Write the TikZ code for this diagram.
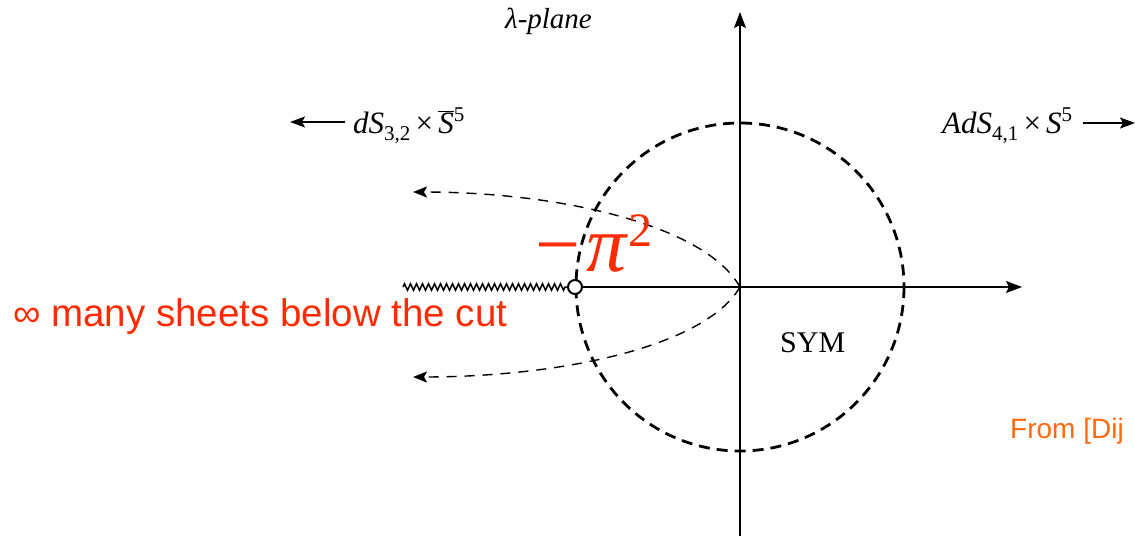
\documentclass[tikz,border=0pt]{standalone}
\usepackage{fontspec}
\setmainfont{Liberation Serif}
\newfontfamily\arialfont{Liberation Sans}
\usetikzlibrary{arrows.meta,decorations.pathmorphing}
\definecolor{redlabel}{HTML}{FF2A00}
\definecolor{orangelabel}{HTML}{FF6A10}
\tikzset{
  axis/.style={line width=1.3pt,-{Stealth[length=16pt,width=12pt,inset=3pt]}},
  bigcircle/.style={line width=2.8pt,dash pattern=on 11pt off 7pt},
  flow/.style={line width=1.4pt,dash pattern=on 10pt off 8pt,-{Stealth[length=14pt,width=11pt,inset=3pt]}},
  dirarrow/.style={line width=1.4pt,-{Stealth[length=15pt,width=11pt,inset=3pt]}},
  serif/.style={font=\fontsize{31}{33}\selectfont,inner sep=0pt},
  cutline/.style={line width=1.5pt,decorate,decoration={zigzag,segment length=6pt,amplitude=3.2pt}},
  branch/.style={circle,draw,line width=2pt,fill=white,minimum size=14pt,inner sep=0pt},
}
\newcommand{\lowidx}[1]{\raisebox{-7pt}{\fontsize{21}{21}\selectfont #1}}
\newcommand{\upidx}[1]{\raisebox{12pt}{\fontsize{21}{21}\selectfont #1}}
\begin{document}
\begin{tikzpicture}[x=1pt,y=-1pt]
\useasboundingbox (0,0) rectangle (1135,536);
\clip (0,0) rectangle (1135,536);
% coordinates
\coordinate (O) at (740,287);
\coordinate (vbot) at (740,536);
\coordinate (vtop) at (740,12);
\coordinate (hend) at (1022,287);
\coordinate (cutstart) at (403,287);
\coordinate (upend) at (413,192);
\coordinate (loend) at (413,377);
% big dashed circle
\draw[bigcircle] (O) circle[radius=164];
% axes
\draw[axis] (vbot) -- (vtop);
\node[branch] (bp) at (575,287) {};
\draw[axis] (bp.east) -- (hend);
\draw[cutline] (cutstart) -- (bp.west);
% flow curves
\draw[flow] (O) .. controls (705,225) and (560,192) .. (upend);
\draw[flow] (O) .. controls (705,347) and (560,377) .. (loend);
% labels
\node[font=\fontsize{29}{31}\selectfont,inner sep=0pt,anchor=base west] (plane) at (505,28) {\textit{λ-plane}};
\node[serif,anchor=base west] (dslabel) at (353,133)
  {\textit{dS}\lowidx{3,2}\,×\,$\overline{\mbox{\textit{S}}}$\upidx{5}};
\node[serif,anchor=base west] (adslabel) at (942,133)
  {\textit{AdS}\lowidx{4,1}\,×\,\textit{S}\upidx{5}};
\coordinate (dsarrowstart) at (345,122);
\coordinate (dsarrowend) at (290,122);
\coordinate (adsarrowstart) at (1083,123);
\coordinate (adsarrowend) at (1135,123);
\draw[dirarrow] (dsarrowstart) -- (dsarrowend);
\draw[dirarrow] (adsarrowstart) -- (adsarrowend);
\node[font=\fontsize{30}{32}\selectfont,inner sep=0pt,anchor=base west] (sym) at (780,352) {SYM};
\node[text=redlabel,inner sep=0pt,anchor=base west] (pi) at (535,271)
  {\fontsize{80}{80}\selectfont −\hspace{6pt}\textit{π}\raisebox{25pt}{\fontsize{48}{48}\selectfont 2}};
\node[text=redlabel,font=\arialfont\fontsize{38.5}{40}\selectfont,inner sep=0pt,anchor=base west] (sheets) at (13,326)
  {∞ many sheets below the cut};
\node[text=orangelabel,font=\arialfont\fontsize{28}{30}\selectfont,inner sep=0pt,anchor=base west] (from) at (1010,438)
  {From [Dij};
\end{tikzpicture}
\end{document}
